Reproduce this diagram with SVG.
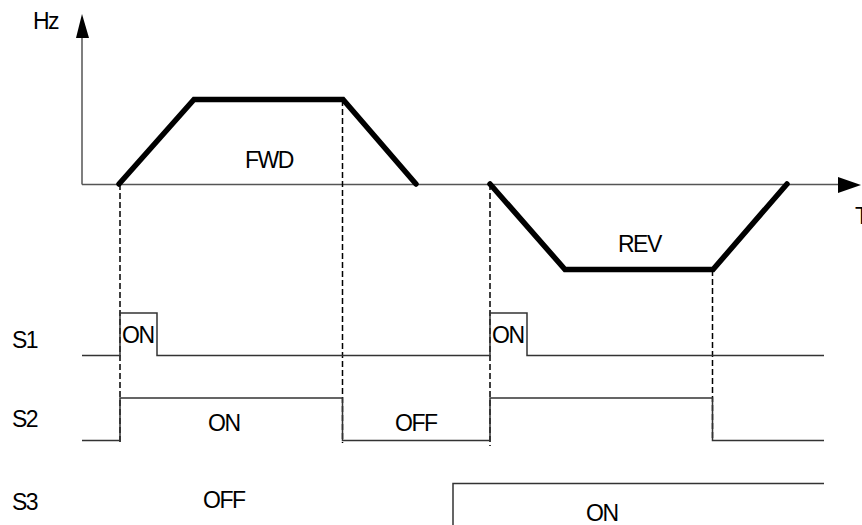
<svg xmlns="http://www.w3.org/2000/svg" width="862" height="525" viewBox="0 0 862 525">
<style>
text{font-family:"Liberation Sans",Arial,sans-serif;font-size:23px;fill:#000;letter-spacing:-1.5px}
.axis{stroke:#555;stroke-width:1.5;fill:none}
.curve{stroke:#000;stroke-width:5.5;fill:none;stroke-linecap:round;stroke-linejoin:miter}
.dash{stroke:#000;stroke-width:1.5;stroke-dasharray:6,3;fill:none}
.sig{stroke:#333;stroke-width:1.5;fill:none}
</style>
<rect width="862" height="525" fill="#fff"/>
<g id="axes">
<line class="axis" x1="82" y1="30" x2="82" y2="184.5"/>
<line class="axis" x1="82" y1="184.5" x2="842" y2="184.5"/>
<polygon points="82,14 76,38 89,38" fill="#000"/>
<polygon points="861,185 838,177 838,193" fill="#000"/>
<text x="33" y="29">Hz</text>
<text x="855" y="224">T</text>
</g>
<g id="connectors">
<line class="dash" x1="120" y1="184" x2="120" y2="443"/>
<line class="dash" x1="342.5" y1="100" x2="342.5" y2="443"/>
<line class="dash" x1="490" y1="184" x2="490" y2="446"/>
<line class="dash" x1="712.5" y1="270" x2="712.5" y2="441"/>
</g>
<g id="fwd">
<polyline class="curve" points="119,184 194,99.5 343,99.5 416,184"/>
<text x="245" y="168">FWD</text>
</g>
<g id="rev">
<polyline class="curve" points="490,184 565,269.5 713,269.5 787,184"/>
<text x="618" y="252">REV</text>
</g>
<g id="s1">
<text x="12" y="348">S1</text>
<polyline class="sig" points="82,355.5 120,355.5 120,313 157,313 157,355.5 490,355.5 490,313 527,313 527,355.5 824,355.5"/>
<text x="122" y="343">ON</text>
<text x="492" y="343">ON</text>
</g>
<g id="s2">
<text x="12" y="427">S2</text>
<polyline class="sig" points="82,440.5 120,440.5 120,398 342.5,398 342.5,440.5 490,440.5 490,398 712.5,398 712.5,440.5 824,440.5"/>
<text x="208" y="431">ON</text>
<text x="395" y="431">OFF</text>
</g>
<g id="s3">
<text x="12" y="510">S3</text>
<polyline class="sig" points="453,525 453,483.5 824,483.5"/>
<text x="203" y="508">OFF</text>
<text x="586" y="521">ON</text>
</g>
</svg>
